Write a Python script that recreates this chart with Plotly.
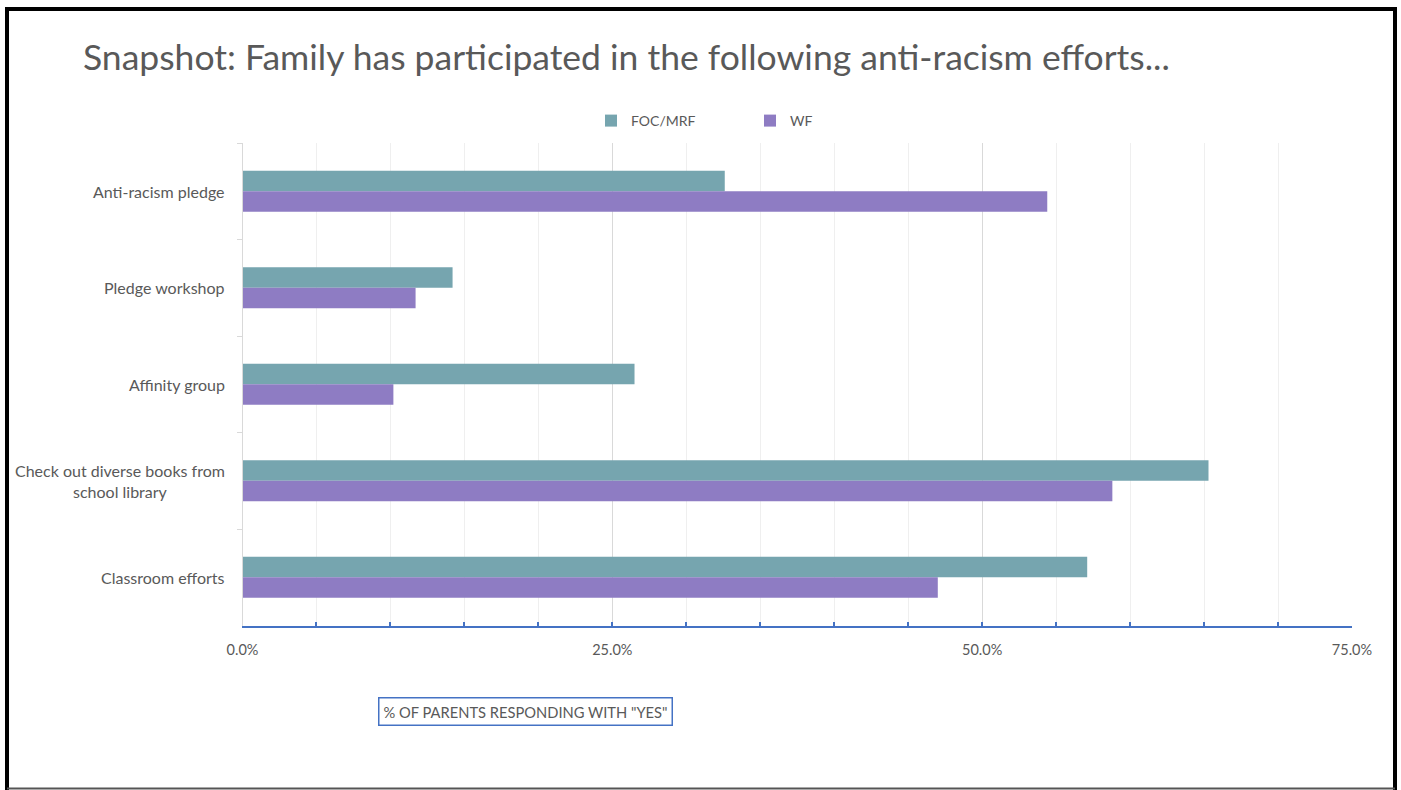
import plotly.graph_objects as go

W, H = 1401, 790

categories = [
    "Anti-racism pledge",
    "Pledge workshop",
    "Affinity group",
    "Check out diverse books from<br>school library",
    "Classroom efforts",
]
foc_mrf = [32.6, 14.2, 26.5, 65.3, 57.1]
wf = [54.4, 11.7, 10.2, 58.8, 47.0]
series_names = ["FOC/MRF", "WF"]
series_colors = ["#76A5AF", "#8E7CC3"]

FONT = "Lato, 'Open Sans', sans-serif"
TEXT = "#595959"

# plot-area edges in pixels (figure uses zero margins, so paper == pixels / size)
PX_L, PX_R = 242.5, 1352
PX_T, PX_B = 143, 625.5


def px(x):
    return x / W


def py(y):
    return 1 - y / H


fig = go.Figure()
for name, vals, col in zip(series_names, [foc_mrf, wf], series_colors):
    fig.add_trace(go.Bar(
        y=categories, x=vals, name=name, orientation="h",
        marker=dict(color=col, line=dict(width=0)),
    ))

fig.update_layout(
    width=W, height=H,
    margin=dict(l=0, r=0, t=0, b=0, autoexpand=False),
    paper_bgcolor="white", plot_bgcolor="white",
    barmode="group", bargap=0.575, bargroupgap=0,
    font=dict(family=FONT, color=TEXT, size=14),
    showlegend=True,
    legend=dict(
        orientation="h", x=px(750), xanchor="center", y=py(121), yanchor="middle",
        font=dict(size=14, color=TEXT), entrywidth=114, entrywidthmode="pixels",
        itemwidth=30, bgcolor="rgba(0,0,0,0)",
    ),
    xaxis=dict(
        domain=[px(PX_L), px(PX_R)], range=[0, 75],
        tick0=0, dtick=25, tickformat=".1f", ticksuffix="%",
        showgrid=True, gridcolor="#d9d9d9", gridwidth=1,
        showline=True, linecolor="#4472C4", linewidth=2,
        ticks="inside", ticklen=4, tickcolor="#4472C4", tickwidth=1.5,
        minor=dict(dtick=5, ticks="inside", ticklen=4, tickcolor="#4472C4",
                   tickwidth=1.5, showgrid=True, gridcolor="#efefef", gridwidth=1),
        tickfont=dict(size=14.5, color=TEXT), ticklabelstandoff=10,
        zeroline=False, fixedrange=True, automargin=False,
    ),
    yaxis=dict(
        domain=[py(PX_B), py(PX_T)], range=[4.5, -0.5],
        type="category", categoryorder="array", categoryarray=categories,
        showticklabels=False, showgrid=False, zeroline=False,
        showline=True, linecolor="#d9d9d9", linewidth=1,
        ticks="outside", ticklen=5, tickcolor="#d9d9d9", tickson="boundaries",
        fixedrange=True, automargin=False,
    ),
)

# category labels, centred per line and right-aligned against the axis
for cat in categories:
    fig.add_annotation(
        x=px(227), xref="paper", xanchor="right",
        y=cat, yref="y", yanchor="middle",
        text=cat, showarrow=False, align="center",
        font=dict(size=16, color=TEXT),
    )

# chart title
fig.add_annotation(
    x=px(81), y=py(56), xref="paper", yref="paper",
    xanchor="left", yanchor="middle", showarrow=False,
    text="Snapshot: Family has participated in the following anti-racism efforts...",
    font=dict(size=35.5, color=TEXT, family=FONT),
)

# boxed axis title
fig.add_annotation(
    x=px(525), y=py(711), xref="paper", yref="paper",
    xanchor="center", yanchor="middle", showarrow=False,
    text='% OF PARENTS RESPONDING WITH "YES"',
    font=dict(size=14.7, color=TEXT),
    bordercolor="#4472C4", borderwidth=1.5, borderpad=4, bgcolor="white",
)

# slide frame
frame = dict(color="black", width=4)
fig.add_shape(type="line", xref="paper", yref="paper",
              x0=px(5), x1=px(1397), y0=py(9), y1=py(9), line=frame)
fig.add_shape(type="line", xref="paper", yref="paper",
              x0=px(7), x1=px(7), y0=py(7), y1=py(792), line=frame)
fig.add_shape(type="line", xref="paper", yref="paper",
              x0=px(1395), x1=px(1395), y0=py(7), y1=py(792), line=frame)
fig.add_shape(type="line", xref="paper", yref="paper",
              x0=px(7), x1=px(1395), y0=py(788.5), y1=py(788.5),
              line=dict(color="#555555", width=2))

fig.write_html("out.html")
